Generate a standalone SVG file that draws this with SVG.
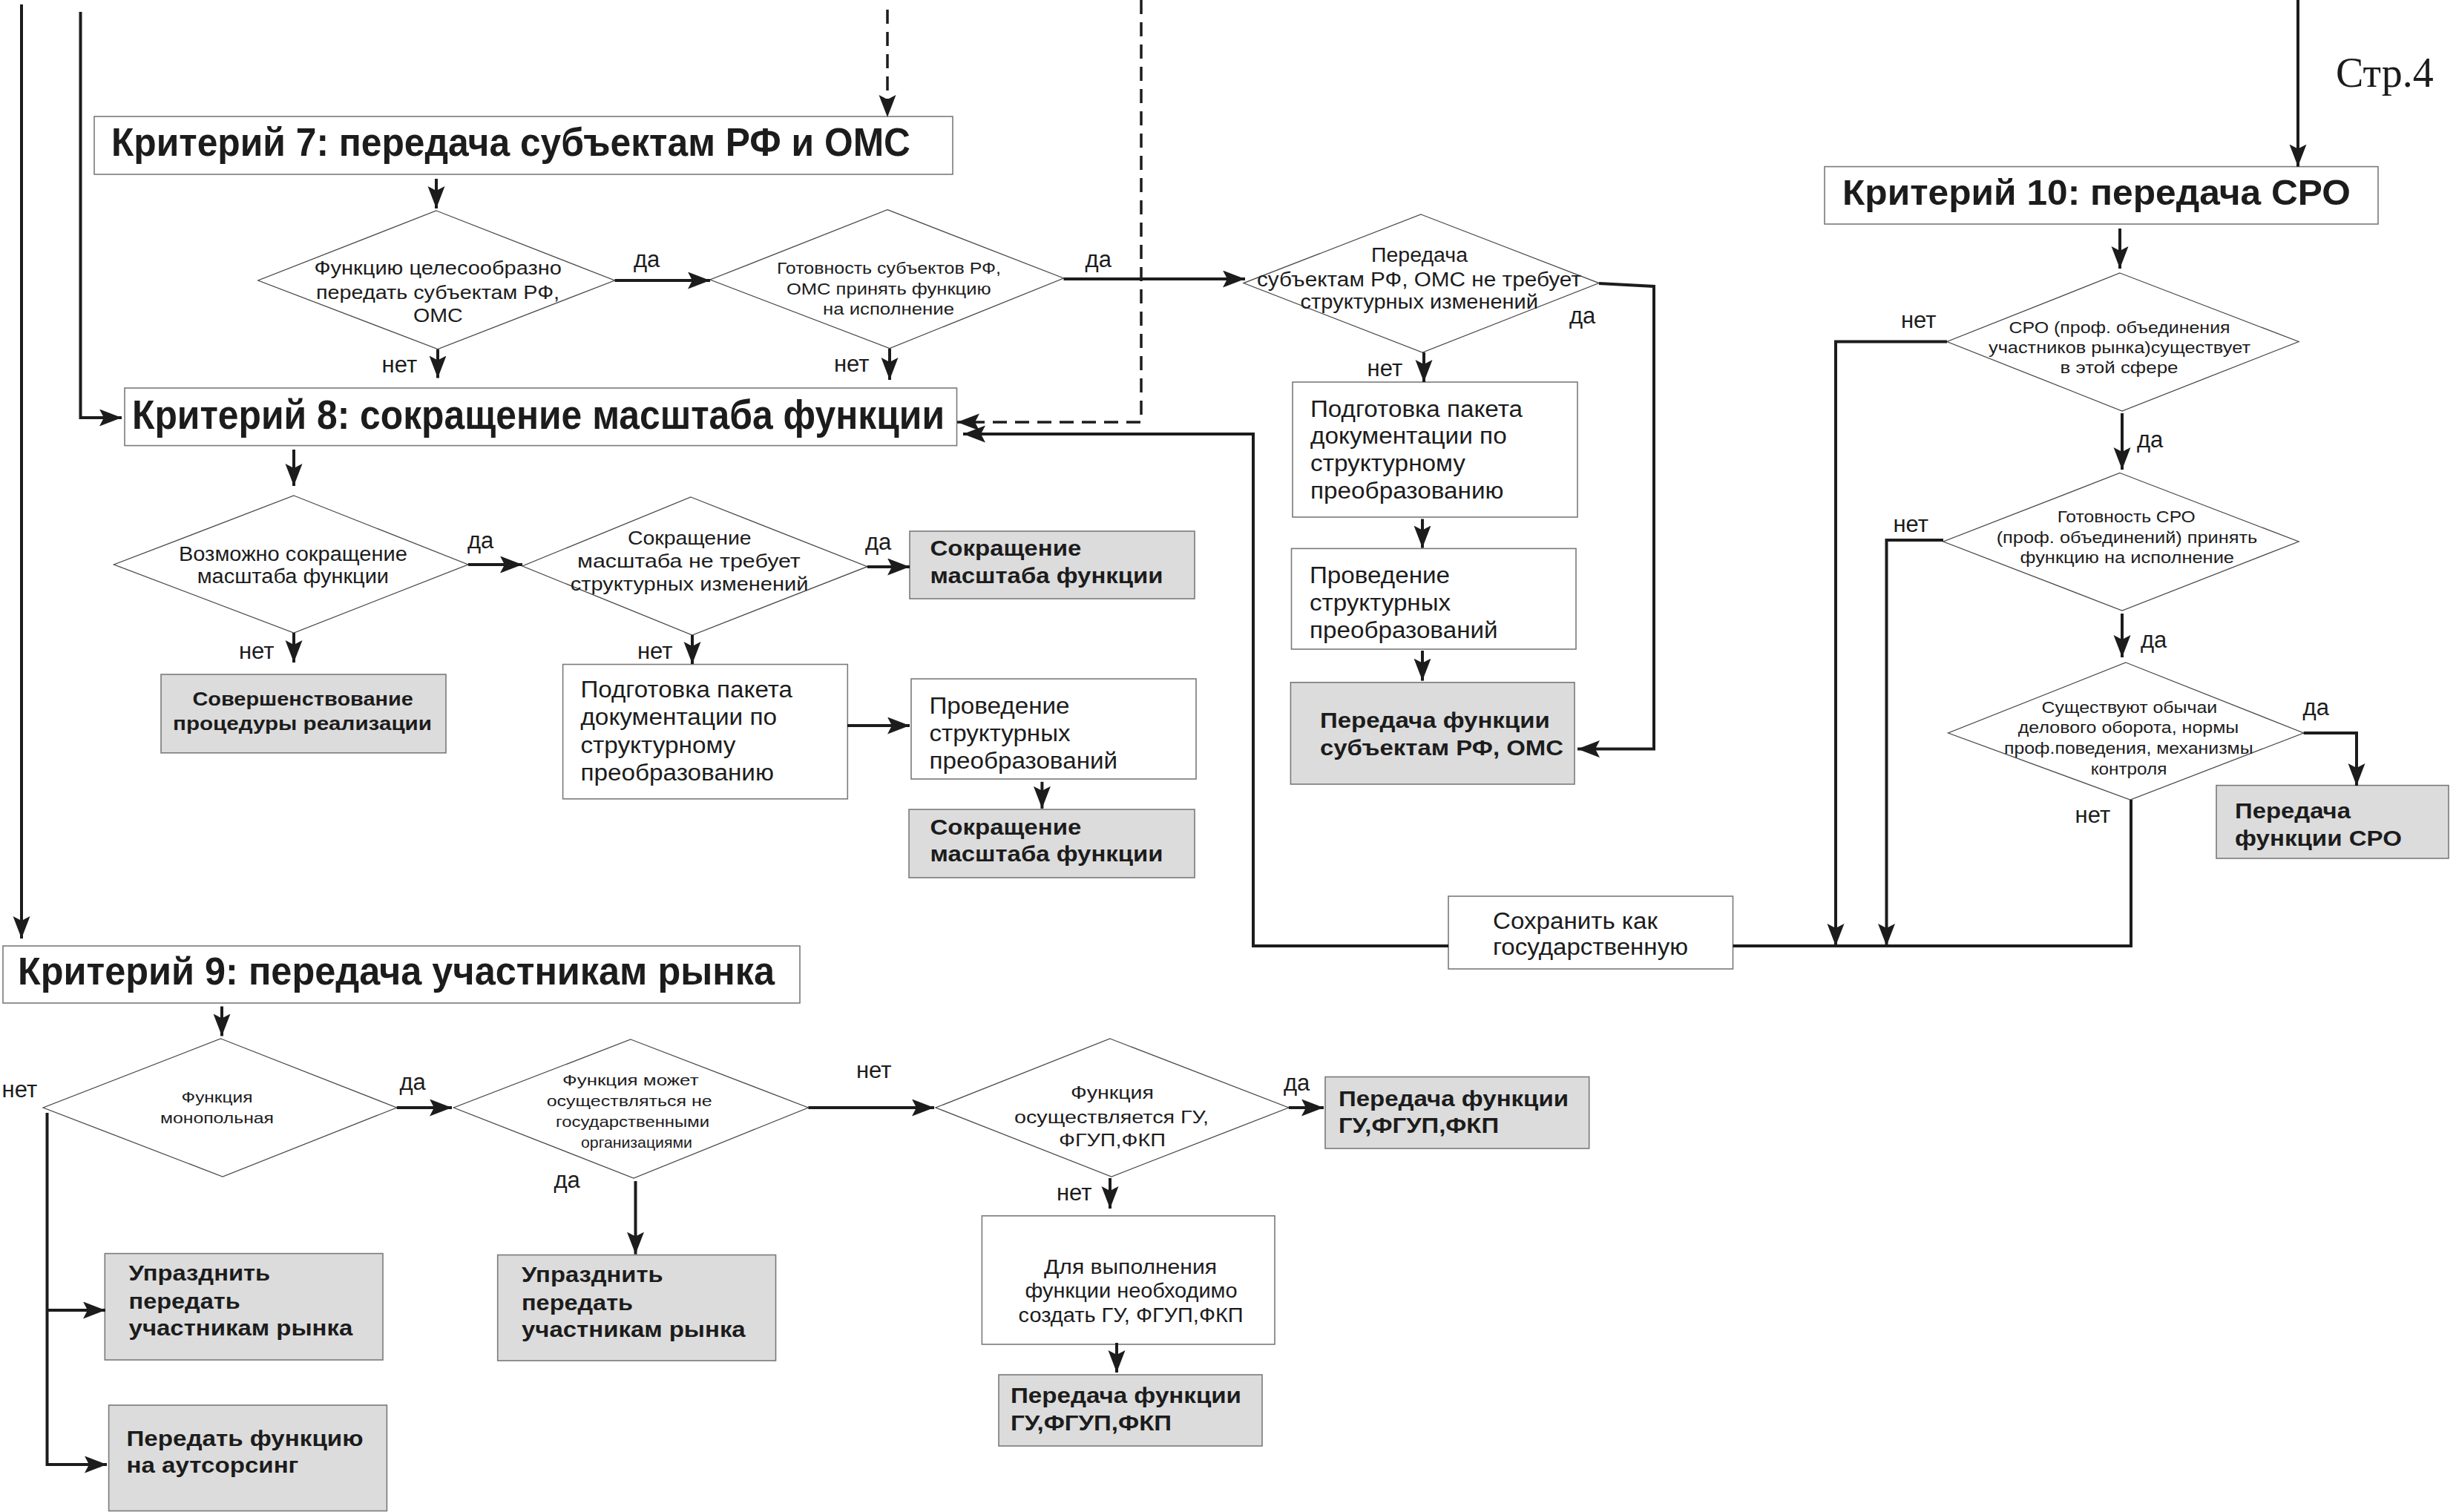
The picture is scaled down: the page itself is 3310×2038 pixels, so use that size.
<svg xmlns="http://www.w3.org/2000/svg" width="3310" height="2038" viewBox="0 0 3310 2038">
<defs>
<style>
.box{fill:#ffffff;stroke:#7a7a7a;stroke-width:1.6}
.gbox{fill:#dcdcdc;stroke:#7a7a7a;stroke-width:1.6}
.dia{fill:#ffffff;stroke:#4a4a4a;stroke-width:1.3}
text{font-family:"Liberation Sans",Arial,sans-serif;fill:#1c1c1c}
.b{font-weight:bold}
.h{font-weight:bold}
.lbl{font-size:31px}
.con{fill:none;stroke:#1c1c1c;stroke-width:4;stroke-linejoin:miter}
.arr{marker-end:url(#ah)}
.dash{stroke-dasharray:19 11;stroke-width:3.5}
</style>
<marker id="ah" markerUnits="userSpaceOnUse" markerWidth="32" markerHeight="24" refX="30" refY="11.5" orient="auto">
<path d="M0,0 L30,11.5 L0,23 L6,11.5 z" fill="#1c1c1c"/>
</marker>
</defs>
<rect width="3310" height="2038" fill="#ffffff"/>

<text x="3148" y="117" style="font-family:'Liberation Serif','Times New Roman',serif;font-size:56px">Стр.4</text>

<g id="k7"><rect class="box" x="127" y="157" width="1157" height="78"/>
<text class="h" x="150" y="210" font-size="53" textLength="1077" lengthAdjust="spacingAndGlyphs">Критерий 7: передача субъектам РФ и ОМС</text></g>

<g id="k8"><rect class="box" x="168" y="523" width="1121.5" height="77.6"/>
<text class="h" x="178" y="578" font-size="55" textLength="1095" lengthAdjust="spacingAndGlyphs">Критерий 8: сокращение масштаба функции</text></g>

<g id="k9"><rect class="box" x="4" y="1275" width="1074" height="77"/>
<text class="h" x="24" y="1327" font-size="51" textLength="1020" lengthAdjust="spacingAndGlyphs">Критерий 9: передача  участникам рынка</text></g>

<g id="k10"><rect class="box" x="2459" y="224.6" width="746" height="77.4"/>
<text class="h" x="2483" y="276" font-size="49" textLength="685" lengthAdjust="spacingAndGlyphs">Критерий 10: передача СРО</text></g>

<g id="dA"><polygon class="dia" points="588,284 828.5,378 590,470.5 347.8,378"/>
<text x="423.5" y="369.5" font-size="26" textLength="333.5" lengthAdjust="spacingAndGlyphs">Функцию целесообразно</text>
<text x="426" y="403" font-size="26" textLength="328" lengthAdjust="spacingAndGlyphs">передать субъектам РФ,</text>
<text x="557" y="433.6" font-size="26" textLength="66.7" lengthAdjust="spacingAndGlyphs">ОМС</text></g>

<g id="dB"><polygon class="dia" points="1196,282.7 1433.5,375 1199,469.6 957,377"/>
<text x="1047" y="368.6" font-size="22" textLength="302" lengthAdjust="spacingAndGlyphs">Готовность субъектов РФ,</text>
<text x="1060" y="396.8" font-size="22" textLength="275.6" lengthAdjust="spacingAndGlyphs">ОМС  принять функцию</text>
<text x="1109" y="424" font-size="22" textLength="177" lengthAdjust="spacingAndGlyphs">на  исполнение</text></g>

<g id="dC"><polygon class="dia" points="1915,289 2155,381.6 1917,475 1676,381.6"/>
<text x="1848" y="353.4" font-size="27" textLength="130" lengthAdjust="spacingAndGlyphs">Передача</text>
<text x="1694" y="386" font-size="27" textLength="437" lengthAdjust="spacingAndGlyphs">субъектам РФ, ОМС не  требует</text>
<text x="1752.6" y="416" font-size="27" textLength="320.4" lengthAdjust="spacingAndGlyphs">структурных изменений</text></g>

<g id="podgC"><rect class="box" x="1742" y="515" width="384" height="182"/>
<text x="1766" y="561.6" font-size="31" textLength="286" lengthAdjust="spacingAndGlyphs">Подготовка пакета</text>
<text x="1766" y="598.4" font-size="31" textLength="264.7" lengthAdjust="spacingAndGlyphs">документации по</text>
<text x="1766" y="635.3" font-size="31" textLength="209" lengthAdjust="spacingAndGlyphs">структурному</text>
<text x="1766" y="672" font-size="31" textLength="260.5" lengthAdjust="spacingAndGlyphs">преобразованию</text></g>

<g id="provC"><rect class="box" x="1740.5" y="739.4" width="383.5" height="135.6"/>
<text x="1765" y="786" font-size="31" textLength="189" lengthAdjust="spacingAndGlyphs">Проведение</text>
<text x="1765" y="823" font-size="31" textLength="190" lengthAdjust="spacingAndGlyphs">структурных</text>
<text x="1765" y="860" font-size="31" textLength="253.6" lengthAdjust="spacingAndGlyphs">преобразований</text></g>

<g id="grayRF"><rect class="gbox" x="1739.4" y="919.8" width="382.6" height="137.2"/>
<text class="b" x="1779" y="981.4" font-size="29" textLength="309.7" lengthAdjust="spacingAndGlyphs">Передача функции</text>
<text class="b" x="1779" y="1018" font-size="29" textLength="328" lengthAdjust="spacingAndGlyphs">субъектам РФ, ОМС</text></g>

<g id="sohr"><rect class="box" x="1952" y="1208" width="383.5" height="98"/>
<text x="2012" y="1251.5" font-size="31" textLength="222" lengthAdjust="spacingAndGlyphs">Сохранить как</text>
<text x="2012" y="1287" font-size="31" textLength="263" lengthAdjust="spacingAndGlyphs">государственную</text></g>

<g id="dS1"><polygon class="dia" points="2857,368 3098,460.5 2860,554 2624,460.5"/>
<text x="2707.6" y="449" font-size="22" textLength="298" lengthAdjust="spacingAndGlyphs">СРО (проф. объединения</text>
<text x="2680" y="476" font-size="22" textLength="353" lengthAdjust="spacingAndGlyphs">участников  рынка)существует</text>
<text x="2776.5" y="503" font-size="22" textLength="159" lengthAdjust="spacingAndGlyphs">в  этой сфере</text></g>

<g id="dS2"><polygon class="dia" points="2857,637.5 3098,730 2860,823 2619,730"/>
<text x="2772.7" y="704" font-size="22" textLength="186" lengthAdjust="spacingAndGlyphs">Готовность СРО</text>
<text x="2690.7" y="732" font-size="22" textLength="351.5" lengthAdjust="spacingAndGlyphs">(проф. объединений)  принять</text>
<text x="2722.5" y="759.4" font-size="22" textLength="288.5" lengthAdjust="spacingAndGlyphs">функцию на  исполнение</text></g>

<g id="dS3"><polygon class="dia" points="2865,893 3104.7,988 2871,1078 2625.6,988"/>
<text x="2751.6" y="961" font-size="22" textLength="236.6" lengthAdjust="spacingAndGlyphs">Существуют обычаи</text>
<text x="2719.8" y="988" font-size="22" textLength="297.5" lengthAdjust="spacingAndGlyphs">делового оборота, нормы</text>
<text x="2701" y="1016" font-size="22" textLength="335.6" lengthAdjust="spacingAndGlyphs">проф.поведения, механизмы</text>
<text x="2817.7" y="1044" font-size="22" textLength="102.7" lengthAdjust="spacingAndGlyphs">контроля</text></g>

<g id="graySRO"><rect class="gbox" x="2987" y="1058.6" width="313" height="98.4"/>
<text class="b" x="3012" y="1103" font-size="29" textLength="156" lengthAdjust="spacingAndGlyphs">Передача</text>
<text class="b" x="3012" y="1139.7" font-size="29" textLength="225" lengthAdjust="spacingAndGlyphs">функции СРО</text></g>

<g id="dD"><polygon class="dia" points="396,668 631,761 396,853 153.5,761"/>
<text x="240.9" y="756" font-size="27" textLength="308" lengthAdjust="spacingAndGlyphs">Возможно сокращение</text>
<text x="265.7" y="786" font-size="27" textLength="258.3" lengthAdjust="spacingAndGlyphs">масштаба функции</text></g>

<g id="graySov"><rect class="gbox" x="217" y="909" width="384" height="105.8"/>
<text class="b" x="259.4" y="951" font-size="26" textLength="297.5" lengthAdjust="spacingAndGlyphs">Совершенствование</text>
<text class="b" x="233" y="983.6" font-size="26" textLength="349" lengthAdjust="spacingAndGlyphs">процедуры  реализации</text></g>

<g id="dE"><polygon class="dia" points="931,670 1169,763.7 933,856 704,763"/>
<text x="845.9" y="734" font-size="25" textLength="166.7" lengthAdjust="spacingAndGlyphs">Сокращение</text>
<text x="778" y="764.6" font-size="25" textLength="300.8" lengthAdjust="spacingAndGlyphs">масштаба  не  требует</text>
<text x="768.7" y="796" font-size="25" textLength="320.7" lengthAdjust="spacingAndGlyphs">структурных изменений</text></g>

<g id="graySokr1"><rect class="gbox" x="1226" y="716" width="384" height="91"/>
<text class="b" x="1253.5" y="749.4" font-size="29" textLength="203.8" lengthAdjust="spacingAndGlyphs">Сокращение</text>
<text class="b" x="1253.5" y="786" font-size="29" textLength="314" lengthAdjust="spacingAndGlyphs">масштаба функции</text></g>

<g id="podgE"><rect class="box" x="758.6" y="895.5" width="383.7" height="181.3"/>
<text x="782.4" y="940" font-size="31" textLength="285.6" lengthAdjust="spacingAndGlyphs">Подготовка пакета</text>
<text x="782.4" y="977" font-size="31" textLength="264.7" lengthAdjust="spacingAndGlyphs">документации по</text>
<text x="782.4" y="1014.8" font-size="31" textLength="209" lengthAdjust="spacingAndGlyphs">структурному</text>
<text x="782.4" y="1052" font-size="31" textLength="260.5" lengthAdjust="spacingAndGlyphs">преобразованию</text></g>

<g id="provE"><rect class="box" x="1228" y="915" width="384" height="135"/>
<text x="1252.5" y="962" font-size="31" textLength="189" lengthAdjust="spacingAndGlyphs">Проведение</text>
<text x="1252.5" y="998.7" font-size="31" textLength="190" lengthAdjust="spacingAndGlyphs">структурных</text>
<text x="1252.5" y="1035.6" font-size="31" textLength="253.6" lengthAdjust="spacingAndGlyphs">преобразований</text></g>

<g id="graySokr2"><rect class="gbox" x="1225" y="1091" width="385" height="92"/>
<text class="b" x="1253.5" y="1124.5" font-size="29" textLength="203.8" lengthAdjust="spacingAndGlyphs">Сокращение</text>
<text class="b" x="1253.5" y="1161.4" font-size="29" textLength="314" lengthAdjust="spacingAndGlyphs">масштаба функции</text></g>

<g id="dF"><polygon class="dia" points="297.5,1400 534.7,1493 300,1586 58.2,1493"/>
<text x="244.6" y="1486" font-size="21" textLength="95.8" lengthAdjust="spacingAndGlyphs">Функция</text>
<text x="216" y="1514" font-size="21" textLength="153" lengthAdjust="spacingAndGlyphs">монопольная</text></g>

<g id="dG"><polygon class="dia" points="850,1401 1089.4,1493 854,1588 611.4,1493"/>
<text x="758" y="1463" font-size="21" textLength="183.5" lengthAdjust="spacingAndGlyphs">Функция  может</text>
<text x="736.7" y="1491" font-size="21" textLength="223" lengthAdjust="spacingAndGlyphs">осуществляться не</text>
<text x="749" y="1519" font-size="21" textLength="207" lengthAdjust="spacingAndGlyphs">государственными</text>
<text x="783" y="1547" font-size="21" textLength="150" lengthAdjust="spacingAndGlyphs">организациями</text></g>

<g id="grayUpr1"><rect class="gbox" x="141.3" y="1689.6" width="374.7" height="143.4"/>
<text class="b" x="173.6" y="1726" font-size="30" textLength="190.6" lengthAdjust="spacingAndGlyphs">Упразднить</text>
<text class="b" x="173.6" y="1763.5" font-size="30" textLength="150" lengthAdjust="spacingAndGlyphs">передать</text>
<text class="b" x="173.6" y="1799.8" font-size="30" textLength="301.7" lengthAdjust="spacingAndGlyphs">участникам рынка</text></g>

<g id="grayOut"><rect class="gbox" x="146.6" y="1894" width="374.8" height="142.5"/>
<text class="b" x="170.5" y="1949.4" font-size="30" textLength="319" lengthAdjust="spacingAndGlyphs">Передать функцию</text>
<text class="b" x="170.5" y="1984.7" font-size="30" textLength="231.9" lengthAdjust="spacingAndGlyphs">на аутсорсинг</text></g>

<g id="grayUpr2"><rect class="gbox" x="670.7" y="1691.5" width="374.8" height="142.5"/>
<text class="b" x="703" y="1728" font-size="30" textLength="190.6" lengthAdjust="spacingAndGlyphs">Упразднить</text>
<text class="b" x="703" y="1765.5" font-size="30" textLength="150" lengthAdjust="spacingAndGlyphs">передать</text>
<text class="b" x="703" y="1801.8" font-size="30" textLength="301.7" lengthAdjust="spacingAndGlyphs">участникам рынка</text></g>

<g id="dH"><polygon class="dia" points="1496,1400 1736.8,1493 1498,1586 1261,1493"/>
<text x="1443" y="1481" font-size="24" textLength="112" lengthAdjust="spacingAndGlyphs">Функция</text>
<text x="1367" y="1514" font-size="24" textLength="262" lengthAdjust="spacingAndGlyphs">осуществляется ГУ,</text>
<text x="1427" y="1544.7" font-size="24" textLength="144" lengthAdjust="spacingAndGlyphs">ФГУП,ФКП</text></g>

<g id="dlya"><rect class="box" x="1323.4" y="1638.8" width="394.6" height="173.2"/>
<text x="1407" y="1716.5" font-size="27" textLength="233" lengthAdjust="spacingAndGlyphs">Для  выполнения</text>
<text x="1381.6" y="1749.4" font-size="27" textLength="286" lengthAdjust="spacingAndGlyphs">функции необходимо</text>
<text x="1372.6" y="1782.4" font-size="27" textLength="303" lengthAdjust="spacingAndGlyphs">создать ГУ, ФГУП,ФКП</text></g>

<g id="grayGU1"><rect class="gbox" x="1346" y="1853" width="355" height="96"/>
<text class="b" x="1362" y="1890.6" font-size="30" textLength="311" lengthAdjust="spacingAndGlyphs">Передача функции</text>
<text class="b" x="1362" y="1928" font-size="30" textLength="217" lengthAdjust="spacingAndGlyphs">ГУ,ФГУП,ФКП</text></g>

<g id="grayGU2"><rect class="gbox" x="1786" y="1451.5" width="355.7" height="96.5"/>
<text class="b" x="1804" y="1490.6" font-size="30" textLength="310" lengthAdjust="spacingAndGlyphs">Передача функции</text>
<text class="b" x="1804" y="1526.8" font-size="30" textLength="216" lengthAdjust="spacingAndGlyphs">ГУ,ФГУП,ФКП</text></g>

<g id="connectors">
<path class="con arr" d="M29,6 V1265"/>
<path class="con arr" d="M108.5,16 V563 H164"/>
<path class="con dash arr" d="M1196,13 V158"/>
<path class="con dash arr" d="M1538,0 V569 H1290"/>
<path class="con arr" d="M588,241 V281"/>
<path class="con arr" d="M828.5,378 H957"/>
<path class="con arr" d="M590,471 V509.5"/>
<path class="con arr" d="M1199,470 V512"/>
<path class="con arr" d="M1433.5,376 H1678"/>
<path class="con arr" d="M2155,382 L2229,386 V1009.6 H2126"/>
<path class="con arr" d="M1919,475 V515"/>
<path class="con arr" d="M1917,699.5 V738.5"/>
<path class="con arr" d="M1917,877 V917.6"/>
<path class="con arr" d="M1952,1275 H1689 V585 H1298"/>
<path class="con" d="M2872,1078 V1275 H2335.5"/>
<path class="con arr" d="M2624,460.5 H2474 V1275"/>
<path class="con arr" d="M2619,728 H2542.5 V1275"/>
<path class="con arr" d="M3097,0 V224.6"/>
<path class="con arr" d="M2857,308 V362"/>
<path class="con arr" d="M2860,557 V633"/>
<path class="con arr" d="M2860,827 V886"/>
<path class="con arr" d="M3104.7,988 H3176 V1059"/>
<path class="con arr" d="M396,606 V655"/>
<path class="con arr" d="M631,761 H704"/>
<path class="con arr" d="M396,853 V893"/>
<path class="con arr" d="M1168.8,764 H1226"/>
<path class="con arr" d="M933,856 V895"/>
<path class="con arr" d="M1142,978 H1226"/>
<path class="con arr" d="M1404.4,1053.8 V1089.8"/>
<path class="con arr" d="M299,1356.5 V1396.5"/>
<path class="con arr" d="M534.7,1493 H609"/>
<path class="con arr" d="M63.5,1500 V1974 H144"/>
<path class="con arr" d="M63.5,1766 H142"/>
<path class="con arr" d="M1089.4,1493 H1259"/>
<path class="con arr" d="M856.5,1592 V1690.6"/>
<path class="con arr" d="M1496,1588 V1629"/>
<path class="con arr" d="M1505,1810 V1850"/>
<path class="con arr" d="M1736.8,1493 H1784"/>
</g>

<g id="labels">
<text class="lbl" x="514.6" y="502">нет</text>
<text class="lbl" x="854" y="360">да</text>
<text class="lbl" x="1124" y="501">нет</text>
<text class="lbl" x="1462.6" y="360">да</text>
<text class="lbl" x="2115" y="436">да</text>
<text class="lbl" x="1842.6" y="507">нет</text>
<text class="lbl" x="630" y="738.5">да</text>
<text class="lbl" x="322" y="888">нет</text>
<text class="lbl" x="1166" y="740.7">да</text>
<text class="lbl" x="859" y="888">нет</text>
<text class="lbl" x="2562" y="441.5">нет</text>
<text class="lbl" x="2880" y="603">да</text>
<text class="lbl" x="2551.5" y="717">нет</text>
<text class="lbl" x="2885" y="873">да</text>
<text class="lbl" x="3103.6" y="964">да</text>
<text class="lbl" x="2796.6" y="1109">нет</text>
<text class="lbl" x="2.6" y="1479">нет</text>
<text class="lbl" x="538.4" y="1469.4">да</text>
<text class="lbl" x="746.4" y="1601">да</text>
<text class="lbl" x="1154" y="1453">нет</text>
<text class="lbl" x="1424" y="1617.6">нет</text>
<text class="lbl" x="1730" y="1470">да</text>
</g>
</svg>
